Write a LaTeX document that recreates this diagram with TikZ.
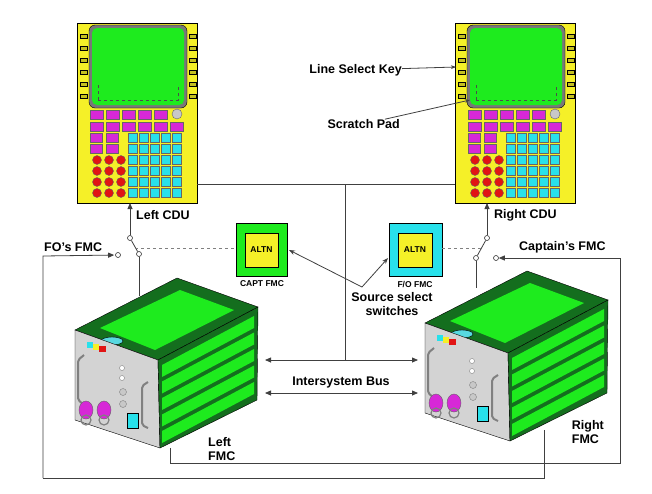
\documentclass[tikz,border=0pt]{standalone}
\usepackage{fontspec}
\setmainfont{Liberation Sans}
\usetikzlibrary{arrows.meta}
\definecolor{cy}{RGB}{245,240,40}
\definecolor{gr}{RGB}{30,235,30}
\definecolor{dg}{RGB}{20,110,30}
\definecolor{mg}{RGB}{215,40,215}
\definecolor{cn}{RGB}{40,225,235}
\definecolor{rd}{RGB}{225,20,20}
\definecolor{gy}{RGB}{200,200,200}
\tikzset{
 wire/.style={draw=black!75, line width=0.8pt},
 arr/.style={wire,-{Triangle[length=6pt,width=5pt]}},
 lab/.style={font=\bfseries\fontsize{12.5}{14}\selectfont, inner sep=0pt},
 sw/.style={circle, draw=black!80, fill=white, minimum size=5pt, inner sep=0pt, line width=0.6pt},
}
\newcommand{\mycdu}[1]{%
\begin{scope}[shift={(#1,0)}]
 \draw[fill=cy, line width=0.8pt] (77,23) rectangle (197,203);
 \draw[fill=gy!60!black, rounded corners=6pt] (89,25) rectangle (187,108);
 \fill[gr, rounded corners=5pt] (92,28) rectangle (184,105);
 \draw[dashed, black!70] (98,100) -- (178,100) -- (178,85) (98,100) -- (98,85);
 \foreach \y in {34,46,58,70,82,94} {
   \draw[fill=cy!80!black] (80,\y) rectangle (87,\y+4);
   \draw[fill=cy!80!black] (189,\y) rectangle (196,\y+4);}
 \foreach \x in {90,106,122,138,154} \draw[fill=mg, draw=black!60] (\x,110) rectangle (\x+13,119);
 \draw[fill=gy, draw=black!60] (177,114) circle (5);
 \foreach \x in {90,106,122,138,154,170} \draw[fill=mg, draw=black!60] (\x,122) rectangle (\x+13,131);
 \foreach \x in {90,106} \foreach \y in {133,144} \draw[fill=mg, draw=black!60] (\x,\y) rectangle (\x+12,\y+9);
 \foreach \x in {128,139,150,161,172} \foreach \y in {133,144,155,166,177,188}
   \draw[fill=cn, draw=black!60] (\x,\y) rectangle (\x+9,\y+9);
 \foreach \x in {97,109,121} \foreach \y in {160,171,182,193}
   \draw[fill=rd, draw=black!60] (\x,\y) circle (4.5);
\end{scope}}
\newcommand{\myfmc}[2]{%
\begin{scope}[shift={(#1,#2)}]
 \draw[fill=dg] (75,330) -- (177,278) -- (258,307) -- (158,360) -- cycle;
 \fill[gr] (100,328) -- (180,290) -- (234,310) -- (155,350) -- cycle;
 \draw[fill=cn!70!gy] (112,341) ellipse (11 and 4);
 \draw[fill=gy!80!white] (75,330) -- (158,360) -- (160,448) -- (75,420) -- cycle;
 \fill[cn] (87,342) rectangle (93,348); \fill[cy] (93,344) rectangle (99,350); \fill[rd] (99,346) rectangle (106,352);
 \draw[gray, line width=2pt, rounded corners=2pt] (84,355) -- (78,360) -- (78,400) -- (83,404);
 \draw[gray, line width=2pt, rounded corners=2pt] (148,382) -- (142,386) -- (142,425) -- (148,428);
 \draw[fill=white, draw=gray] (122,368) circle (2.5) (122,378) circle (2.5);
 \draw[fill=gy, draw=gray] (123,392) circle (3.5) (123,404) circle (3.5);
 \draw[fill=cn] (127,413) rectangle (138,428);
 \foreach \x in {86,104} {\draw[fill=mg, draw=black!60] (\x,410) ellipse (7 and 9);
   \draw[gray, line width=1.2pt] (\x,420) circle (5);}
 \draw[fill=dg] (158,360) -- (258,307) -- (257,400) -- (160,448) -- cycle;
 \foreach \i in {0,1,2,3,4} {
   \fill[gr] (162,365+\i*16.5) -- (254,316+\i*16.5) -- (254,328+\i*16.5) -- (162,377+\i*16.5) -- cycle;}
\end{scope}}
\begin{document}
\begin{tikzpicture}[x=1pt,y=-1pt]
\useasboundingbox (0,0) rectangle (652,493);
\fill[white] (0,0) rectangle (652,493);
\mycdu{0}
\mycdu{378}
\myfmc{0}{0}
\myfmc{350}{-7}
\coordinate (lcb) at (130,203); \coordinate (rcb) at (487,203);
\node[sw] (lp) at (130,238) {}; \node[sw] (la) at (118,255) {}; \node[sw] (lb) at (139,254) {};
\node[sw] (rp) at (487,238) {}; \node[sw] (ra) at (476,258) {}; \node[sw] (rb) at (496,258) {};
\draw[arr] (lp) -- (lcb);
\draw[wire] (lp) -- (lb);
\draw[wire] (lb) -- (139,296);
\draw[arr, shorten >=1pt] (43,478) -- (43,256) -- (la);
\draw[wire] (43,478) -- (544,478) -- (544,430);
\draw[arr] (rp) -- (rcb);
\draw[wire] (rp) -- (ra);
\draw[wire] (ra) -- (476,288);
\draw[arr] (170,448) -- (170,463) -- (620,463) -- (620,258) -- (rb);
\draw[wire] (197,184) -- (455,184);
\draw[wire] (345,184) -- (345,360);
\draw[arr] (345,360) -- (265,360);
\draw[arr] (345,360) -- (418,360);
\draw[arr] (345,393) -- (265,393);
\draw[arr] (345,393) -- (418,393);
\node[lab] at (341,382) {Intersystem Bus};
\draw[fill=gr] (236,223) rectangle (287,276);
\draw[fill=cy] (245,233) rectangle (278,267);
\node[font=\bfseries\fontsize{8.5}{9}\selectfont] (capt) at (261.5,250) {ALTN};
\node[font=\bfseries\fontsize{8.5}{9}\selectfont] at (262,284) {CAPT FMC};
\draw[fill=cn] (389,223) rectangle (442,276);
\draw[fill=cy] (398,233) rectangle (432,267);
\node[font=\bfseries\fontsize{8.5}{9}\selectfont] (fo) at (415,250) {ALTN};
\node[font=\bfseries\fontsize{8.5}{9}\selectfont] at (415,284) {F/O FMC};
\draw[dashed, gray, line width=0.8pt] (135,248) -- (236,248);
\draw[dashed, gray, line width=0.8pt] (442,248) -- (482,248);
\node[lab, align=center] (src) at (392,304) {Source select\\switches};
\draw[wire, -{Stealth[length=6pt]}] (362,287) -- (289,250);
\draw[wire, -{Stealth[length=6pt]}] (362,287) -- (388,258);
\node[lab, anchor=west] at (136,215) {Left CDU};
\node[lab, anchor=west] at (494,215) {Right CDU};
\node[lab, anchor=west] at (44,247) {FO's FMC};
\node[lab, anchor=west] at (519,247) {Captain's FMC};
\node[lab, anchor=west, align=left] at (208,449) {Left\\FMC};
\node[lab, anchor=east, align=left] at (604,432) {Right\\FMC};
\node[lab, anchor=east] (lsk) at (402,70) {Line Select Key};
\draw[wire, -{Stealth[length=5pt]}] (lsk) -- (456,67);
\node[lab, anchor=east] (sp) at (400,124) {Scratch Pad};
\draw[wire, -{Stealth[length=5pt]}] (sp) -- (470,100);
\end{tikzpicture}
\end{document}
